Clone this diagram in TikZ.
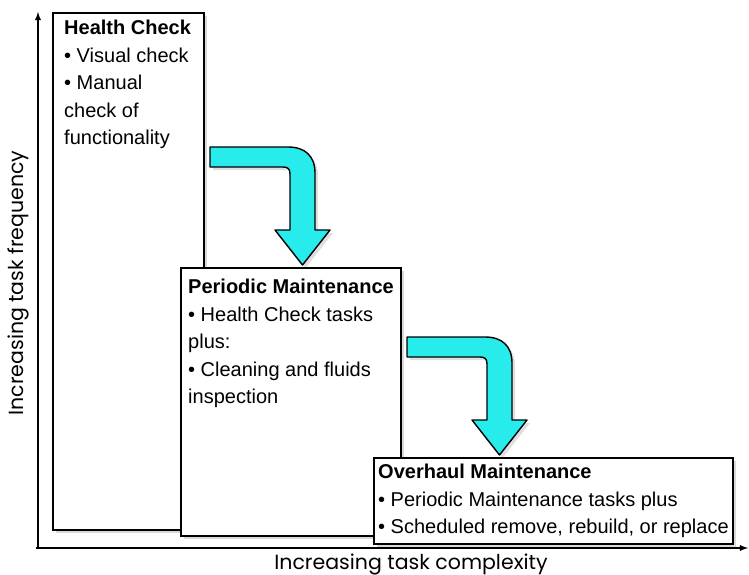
\documentclass[tikz,border=0pt]{standalone}
\usepackage{fontspec}
\setmainfont{Liberation Sans}
\newfontfamily\axisfont{Poppins}
\usetikzlibrary{arrows,positioning,calc,shadows}

\definecolor{arrowcyan}{RGB}{40,236,236}

\tikzset{
  stage/.style={rectangle,draw,line width=1.8pt,fill=white,anchor=north west,
    drop shadow={shadow xshift=3pt,shadow yshift=-3pt,opacity=0.3}},
  stagetext/.style={inner sep=0pt,anchor=north west,align=left,
    font=\fontsize{20}{27.5}\selectfont},
  axis/.style={line width=1.8pt,-latex},
  axislabel/.style={font=\axisfont\fontsize{20.5}{24}\selectfont},
  bendarrow/.style={draw,line width=1.4pt,fill=arrowcyan,line join=round,
    drop shadow={shadow xshift=3pt,shadow yshift=-3pt,opacity=0.25}}
}

\begin{document}
\begin{tikzpicture}[x=1pt,y=-1pt]
\useasboundingbox (0,0) rectangle (749,575);

% axes
\coordinate (origin) at (38,548);
\draw[axis] (36,548) -- (748,548);
\draw[axis] (38,549) -- (38,12);
\node[axislabel,rotate=90,name=ylabel] at (18,283) {Increasing task frequency};
\node[axislabel,name=xlabel] at (411,564) {Increasing task complexity};

% stage boxes
\node[stage,minimum width=151,minimum height=517,name=health] at (52,12) {};
\node[stagetext] at ([shift={(12,8)}]health.north west)
  {\textbf{Health Check}\\ • Visual check\\ • Manual\\ check of\\ functionality};

\node[stage,minimum width=220,minimum height=268,name=periodic] at (180,267) {};
\node[stagetext] at ([shift={(8,12)}]periodic.north west)
  {\textbf{Periodic Maintenance}\\ • Health Check tasks\\ plus:\\ • Cleaning and fluids\\ inspection};

\node[stage,minimum width=359,minimum height=86,name=overhaul] at (373,457) {};
\node[stagetext] at ([shift={(5,7)}]overhaul.north west)
  {\textbf{Overhaul Maintenance}\\ • Periodic Maintenance tasks plus\\ • Scheduled remove, rebuild, or replace};

% bent arrows
\coordinate (bend1) at (210,147);
\coordinate (bend2) at (407,337);
\foreach \c in {bend1,bend2}
  \draw[bendarrow,shift={(\c)}] (0,0) -- (78,0) .. controls (95,0) and (105,9) .. (105,26)
    -- (105,83) -- (120,83) -- (92.5,118) -- (65,83) -- (80,83) -- (80,27)
    .. controls (80,22) and (78,20) .. (73,20) -- (0,20) -- cycle;
\end{tikzpicture}
\end{document}
